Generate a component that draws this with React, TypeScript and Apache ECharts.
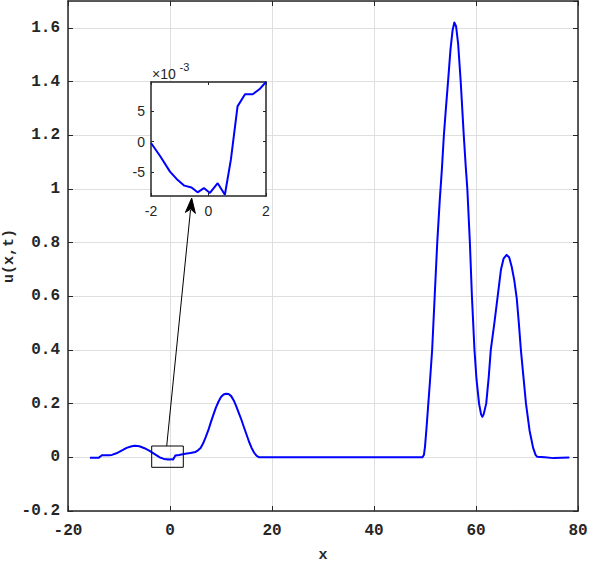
import React, { useEffect, useRef } from "react";
import * as echarts from "echarts";

// Main curve u(x,t)
const mainX = [
  -15.7, -14.0, -13.6, -13.3, -12.0, -11.4, -10.5, -9.5, -8.5, -7.5, -6.9, -6.0, -5.0, -4.0, -3.0,
  -2.0, -1.69, -1.34, -1.11, -0.84, -0.59, -0.38, -0.16, 0.05, 0.32, 0.57, 0.78, 1.01, 1.27, 1.54, 1.77, 2.0,
  3.0, 4.0, 5.0, 5.5, 6.0, 6.5, 7.0, 7.5, 8.0, 8.5, 9.0, 9.5, 10.0, 10.5, 11.0, 11.5, 12.0, 12.5, 13.0, 13.5,
  14.0, 14.5, 15.0, 15.5, 16.0, 16.5, 17.0, 17.5,
  49.5, 49.8, 50.0, 50.3, 50.65, 51.0, 51.4, 51.9, 52.4, 52.9, 53.3, 53.7, 54.1, 54.6, 55.0, 55.4, 55.75,
  56.1, 56.5, 57.0, 57.6, 58.0, 58.3, 58.8, 59.2, 59.7, 60.1, 60.6, 61.0, 61.25, 61.5, 62.0, 62.5, 62.9,
  63.6, 64.25, 64.9, 65.4, 66.0, 66.5, 67.0, 67.5, 68.0, 68.4, 68.8, 69.3, 69.8, 70.5, 71.2, 71.7, 72.0,
  73.5, 75.2, 78.3,
];
const mainY = [
  -0.002, -0.002, 0.004, 0.008, 0.008, 0.009, 0.015, 0.025, 0.035, 0.041, 0.043, 0.041, 0.034, 0.024, 0.012,
  -0.0002, -0.0023, -0.0049, -0.0061, -0.0072, -0.0075, -0.0083, -0.0076, -0.0084, -0.0068, -0.0087, -0.0029, 0.0058, 0.0078, 0.0078, 0.0086, 0.0098,
  0.013, 0.016, 0.02, 0.026, 0.035, 0.052, 0.075, 0.1, 0.13, 0.158, 0.185, 0.207, 0.225, 0.234, 0.237, 0.236, 0.228, 0.212, 0.19, 0.165,
  0.14, 0.112, 0.085, 0.058, 0.035, 0.017, 0.005, 0.0,
  0.0, 0.01, 0.04, 0.11, 0.2, 0.29, 0.4, 0.6, 0.8, 0.96, 1.07, 1.2, 1.3, 1.42, 1.52, 1.59, 1.62,
  1.605, 1.54, 1.4, 1.2, 1.08, 1.0, 0.8, 0.6, 0.4, 0.29, 0.2, 0.16, 0.151, 0.16, 0.2, 0.3, 0.4,
  0.5, 0.6, 0.7, 0.74, 0.754, 0.745, 0.71, 0.66, 0.59, 0.5, 0.4, 0.3, 0.2, 0.1, 0.035, 0.008, 0.002,
  0.0, -0.003, -0.001,
];

const insetRange = [-2, 2];
const insetTicksY = [-0.005, 0, 0.005];

const AX = "#262626";
const GRID = "#dfdfdf";
const MONO = "Liberation Mono";
const SANS = "Liberation Sans";

export default function App() {
  const ref = useRef<HTMLDivElement>(null);
  useEffect(() => {
    document.body.style.margin = "0";
    const chart = echarts.init(ref.current!, null, { renderer: "svg" });
    const mainData = mainX.map((x, i) => [x, mainY[i]]);
    const insetData = mainData.filter((d) => d[0] >= insetRange[0] && d[0] <= insetRange[1]);

    const mainLabel = { fontFamily: MONO, fontWeight: "bold" as const, fontSize: 16, color: AX };
    const insetLabel = { fontFamily: SANS, fontSize: 14, color: AX };

    chart.setOption({
      animation: false,
      grid: [
        { left: 68, right: 20, top: 1, bottom: 56, outerBoundsMode: "none", containLabel: false },
        {
          left: 151, top: 82, width: 115, height: 114, show: true, backgroundColor: "#fff", borderWidth: 0, z: 5,
          outerBoundsMode: "none", containLabel: false,
        },
      ],
      xAxis: [
        {
          type: "value", gridIndex: 0, min: -20, max: 80, interval: 20, position: "bottom",
          axisLine: { show: true, onZero: false, lineStyle: { color: AX, width: 1.5 } },
          axisTick: { show: true, inside: true, length: 5, lineStyle: { color: AX } },
          splitLine: { show: true, lineStyle: { color: GRID, width: 1 } },
          axisLabel: { ...mainLabel, margin: 12 },
          name: "x", nameLocation: "middle", nameGap: 37, nameMoveOverlap: false,
          nameTextStyle: { fontFamily: MONO, fontWeight: "bold", fontSize: 15, color: AX },
        },
        {
          type: "value", gridIndex: 0, min: -20, max: 80, interval: 20, position: "top",
          axisLine: { show: true, onZero: false, lineStyle: { color: AX, width: 1.5 } },
          axisTick: { show: true, inside: true, length: 5, lineStyle: { color: AX } },
          splitLine: { show: false }, axisLabel: { show: false },
        },
        {
          type: "value", gridIndex: 1, min: -2, max: 2, interval: 2, position: "bottom", z: 6,
          axisLine: { show: true, onZero: false, lineStyle: { color: AX, width: 1.5 } },
          axisTick: { show: true, inside: true, length: 3, lineStyle: { color: AX } },
          splitLine: { show: false },
          axisLabel: { ...insetLabel, margin: 8 },
        },
        {
          type: "value", gridIndex: 1, min: -2, max: 2, interval: 2, position: "top", z: 6,
          axisLine: { show: true, onZero: false, lineStyle: { color: AX, width: 1.5 } },
          axisTick: { show: true, inside: true, length: 3, lineStyle: { color: AX } },
          splitLine: { show: false }, axisLabel: { show: false },
        },
      ],
      yAxis: [
        {
          type: "value", gridIndex: 0, min: -0.2, max: 1.7, interval: 0.2, position: "left",
          axisLine: { show: true, onZero: false, lineStyle: { color: AX, width: 1.5 } },
          axisTick: { show: true, inside: true, length: 5, lineStyle: { color: AX } },
          splitLine: { show: true, lineStyle: { color: GRID, width: 1 } },
          axisLabel: { ...mainLabel, margin: 8, showMaxLabel: false },
          name: "u(x,t)", nameLocation: "middle", nameGap: 51, nameMoveOverlap: false,
          nameTextStyle: { fontFamily: MONO, fontWeight: "bold", fontSize: 15, color: AX },
        },
        {
          type: "value", gridIndex: 0, min: -0.2, max: 1.7, interval: 0.2, position: "right",
          axisLine: { show: true, onZero: false, lineStyle: { color: AX, width: 1.5 } },
          axisTick: { show: true, inside: true, length: 5, lineStyle: { color: AX } },
          splitLine: { show: false }, axisLabel: { show: false },
        },
        {
          type: "value", gridIndex: 1, min: -0.0089, max: 0.0098, position: "left", z: 6,
          axisLine: { show: true, onZero: false, lineStyle: { color: AX, width: 1.5 } },
          axisTick: { show: true, inside: true, length: 3, customValues: insetTicksY, lineStyle: { color: AX } },
          splitLine: { show: false },
          axisLabel: {
            ...insetLabel, margin: 6, customValues: insetTicksY,
            formatter: (v: number) => String(Math.round(v * 1000)),
          },
        },
        {
          type: "value", gridIndex: 1, min: -0.0089, max: 0.0098, position: "right", z: 6,
          axisLine: { show: true, onZero: false, lineStyle: { color: AX, width: 1.5 } },
          axisTick: { show: true, inside: true, length: 3, customValues: insetTicksY, lineStyle: { color: AX } },
          splitLine: { show: false }, axisLabel: { show: false },
        },
      ],
      series: [
        {
          type: "line", xAxisIndex: 0, yAxisIndex: 0, data: mainData, showSymbol: false,
          smooth: false,
          lineStyle: { color: "#0000ff", width: 2, join: "round" }, z: 2,
        },
        {
          type: "line", xAxisIndex: 2, yAxisIndex: 2, data: insetData, showSymbol: false,
          lineStyle: { color: "#0000ff", width: 2 }, z: 7, clip: true,
        },
      ],
      graphic: [
        {
          type: "rect", shape: { x: 151.7, y: 446, width: 31.6, height: 21.3 },
          style: { fill: "none", stroke: "#000", lineWidth: 1 }, z: 8,
        },
        {
          type: "line", shape: { x1: 166.7, y1: 446, x2: 190.5, y2: 210 },
          style: { stroke: "#000", lineWidth: 1 }, z: 8,
        },
        {
          type: "polygon",
          shape: { points: [[191.7, 198], [195.4, 213.4], [190.6, 209.0], [185.4, 212.4]] },
          style: { fill: "#000", stroke: "#000", lineWidth: 1 }, z: 8,
        },
        {
          type: "text", x: 152, y: 74, z: 8,
          style: { text: "×10", fontFamily: SANS, fontSize: 14, fill: AX, verticalAlign: "middle", align: "left" },
        },
        {
          type: "text", x: 179.5, y: 67, z: 8,
          style: { text: "-3", fontFamily: SANS, fontSize: 11, fill: AX, verticalAlign: "middle", align: "left" },
        },
      ],
    });
    return () => chart.dispose();
  }, []);
  return <div ref={ref} style={{ width: 598, height: 567 }} />;
}
